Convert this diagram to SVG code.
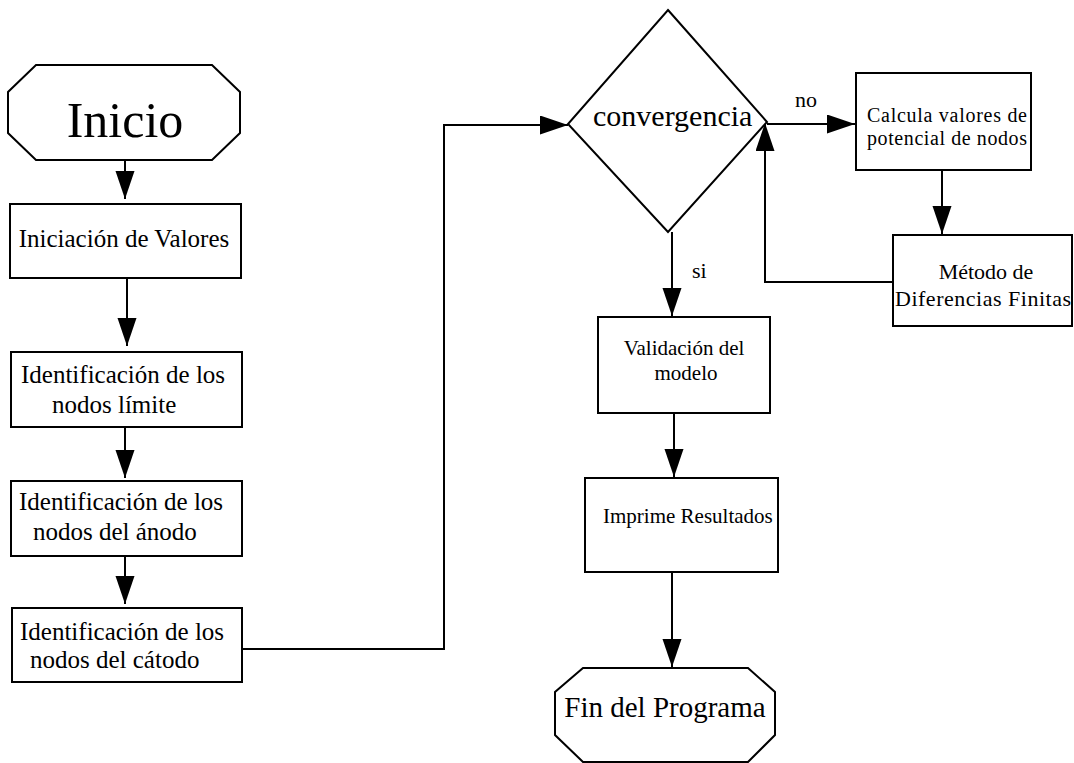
<svg xmlns="http://www.w3.org/2000/svg" width="1074" height="763" viewBox="0 0 1074 763">
  <style>
    .shape { fill: #ffffff; stroke: #000000; stroke-width: 2; }
    .edge { fill: none; stroke: #000000; stroke-width: 2; marker-end: url(#head); }
    text { font-family: "Liberation Serif", "Times New Roman", serif; fill: #000000; }
    .t25 { font-size: 25px; }
    .t21 { font-size: 21px; }
    .t20 { font-size: 20px; }
    .t22 { font-size: 22px; }
  </style>
  <defs>
    <marker id="head" markerUnits="userSpaceOnUse" markerWidth="30" markerHeight="20" refX="28" refY="9.5" orient="auto">
      <path d="M0,0 L28,9.5 L0,19 Z" fill="#000000"/>
    </marker>
  </defs>
  <rect width="1074" height="763" fill="#ffffff"/>

  <!-- connectors -->
  <g id="connectors">
    <path class="edge" d="M125,160 V199"/>
    <path class="edge" d="M127,278 V346"/>
    <path class="edge" d="M125,427 V478"/>
    <path class="edge" d="M125,556 V604"/>
    <path class="edge" d="M242,649 H444 V125 H568"/>
    <path class="edge" d="M672,232 V316"/>
    <path class="edge" d="M674,413 V477"/>
    <path class="edge" d="M672,572 V667"/>
    <path class="edge" d="M767,124 H855"/>
    <path class="edge" d="M942,170 V234"/>
    <path class="edge" d="M893,282 H765 V123"/>
    <text class="t22" x="692" y="278">si</text>
    <text class="t22" x="795" y="107">no</text>
  </g>

  <!-- start terminal -->
  <g id="inicio">
    <polygon class="shape" points="36,65 212,65 240,92 240,133 212,160 36,160 8,133 8,92"/>
    <text x="125" y="137" font-size="50" text-anchor="middle">Inicio</text>
  </g>

  <g id="iniciacion">
    <rect class="shape" x="10" y="204" width="231" height="74"/>
    <text class="t25" x="124" y="247" text-anchor="middle">Iniciación de Valores</text>
  </g>

  <g id="nodos-limite">
    <rect class="shape" x="11" y="352" width="231" height="75"/>
    <text class="t25" x="21" y="383">Identificación de los</text>
    <text class="t25" x="52" y="413">nodos límite</text>
  </g>

  <g id="nodos-anodo">
    <rect class="shape" x="11" y="481" width="231" height="75"/>
    <text class="t25" x="19" y="510">Identificación de los</text>
    <text class="t25" x="33" y="540">nodos del ánodo</text>
  </g>

  <g id="nodos-catodo">
    <rect class="shape" x="12" y="608" width="230" height="74"/>
    <text class="t25" x="20" y="640">Identificación de los</text>
    <text class="t25" x="30" y="668">nodos del cátodo</text>
  </g>

  <!-- decision -->
  <g id="convergencia">
    <polygon class="shape" points="668,10 767,122 668,232 568,124"/>
    <text x="593" y="126" font-size="30">convergencia</text>
  </g>

  <g id="calcula">
    <rect class="shape" x="856" y="73" width="175" height="97"/>
    <text class="t20" x="867" y="122" textLength="160" lengthAdjust="spacing">Calcula valores de</text>
    <text class="t20" x="867" y="145" textLength="160" lengthAdjust="spacing">potencial de nodos</text>
  </g>

  <g id="metodo">
    <rect class="shape" x="893" y="235" width="179" height="91"/>
    <text class="t22" x="986" y="279" text-anchor="middle">Método de</text>
    <text class="t22" x="895" y="306" textLength="176" lengthAdjust="spacing">Diferencias Finitas</text>
  </g>

  <g id="validacion">
    <rect class="shape" x="598" y="317" width="172" height="96"/>
    <text class="t21" x="684" y="355" text-anchor="middle">Validación del</text>
    <text class="t21" x="686" y="380" text-anchor="middle">modelo</text>
  </g>

  <g id="imprime">
    <rect class="shape" x="585" y="478" width="193" height="94"/>
    <text class="t21" x="603" y="523">Imprime Resultados</text>
  </g>

  <!-- end terminal -->
  <g id="fin">
    <polygon class="shape" points="583,668 748,668 775,692 775,735 748,762 583,762 555,735 555,692"/>
    <text x="665" y="717" font-size="29" text-anchor="middle">Fin del Programa</text>
  </g>
</svg>
